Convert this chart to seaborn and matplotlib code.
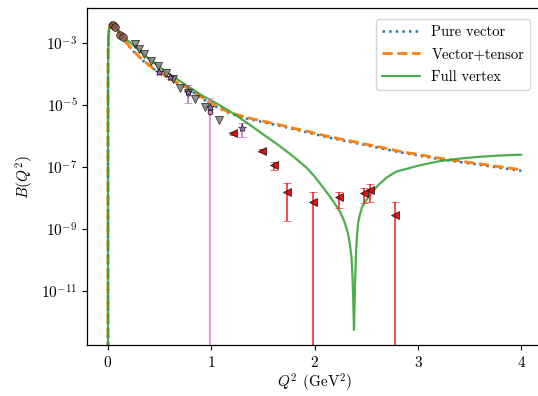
import numpy as np
import pandas as pd
import seaborn as sns
import matplotlib
matplotlib.use('Agg')
import matplotlib.pyplot as plt
from matplotlib.ticker import FixedLocator, NullLocator, LogFormatterSciNotation

# model curves, B(Q^2)
q2_vec = [0.0, 0.0005, 0.002, 0.005, 0.01, 0.02, 0.035, 0.05, 0.09, 0.148, 0.238, 0.335,
          0.432, 0.623, 0.8, 0.991, 1.175, 1.34, 1.66, 2.145, 2.63, 2.823, 3.21, 3.598, 4.0]
b_pure = [1e-16, 1e-4, 6e-4, 1.6e-3, 2.8e-3, 4.0e-3, 4.6e-3, 4.4e-3, 2.7e-3, 1.36e-3, 5.8e-4,
          2.8e-4, 1.55e-4, 6.2e-5, 2.9e-5, 1.1e-5, 5.4e-6, 3.7e-6, 2.15e-6, 8.8e-7, 4.1e-7,
          3.0e-7, 1.78e-7, 1.17e-7, 7.5e-8]
b_tensor = [1e-16, 1e-4, 6e-4, 1.6e-3, 2.8e-3, 4.0e-3, 4.6e-3, 4.4e-3, 2.7e-3, 1.38e-3, 6.0e-4,
            2.9e-4, 1.6e-4, 6.5e-5, 3.1e-5, 1.17e-5, 5.8e-6, 4.0e-6, 2.3e-6, 9.5e-7, 4.4e-7,
            3.2e-7, 1.91e-7, 1.26e-7, 8.1e-8]

q2_full = [0.0, 0.0005, 0.002, 0.005, 0.01, 0.02, 0.035, 0.05, 0.09, 0.148, 0.206, 0.274,
           0.352, 0.429, 0.517, 0.594, 0.672, 0.759, 0.836, 0.914, 0.991, 1.078, 1.204, 1.34,
           1.495, 1.66, 1.805, 1.92, 1.995, 2.076, 2.164, 2.241, 2.285, 2.322, 2.341, 2.355,
           2.365, 2.373, 2.380, 2.387, 2.391, 2.401, 2.409, 2.419, 2.436, 2.459, 2.50, 2.551,
           2.63, 2.706, 2.79, 2.90, 3.0, 3.21, 3.404, 3.598, 3.792, 4.0]
b_full = [1e-16, 1e-4, 6e-4, 1.6e-3, 2.8e-3, 4.0e-3, 4.7e-3, 4.5e-3, 2.9e-3, 1.66e-3, 1.1e-3,
          7.2e-4, 4.2e-4, 2.6e-4, 1.54e-4, 1.02e-4, 6.8e-5, 4.3e-5, 3.0e-5, 2.0e-5, 1.47e-5,
          1.0e-5, 5.6e-6, 2.75e-6, 1.17e-6, 4.8e-7, 2.03e-7, 9.6e-8, 5.1e-8, 2.3e-8, 9.2e-9,
          3.8e-9, 1.8e-9, 7.2e-10, 3.0e-10, 1.26e-10, 3.2e-11, 5.0e-12, 5.4e-13, 5.0e-12,
          2.2e-11, 2.1e-10, 5.5e-10, 1.5e-9, 2.8e-9, 5.1e-9, 8.5e-9, 1.55e-8, 2.9e-8, 4.8e-8,
          7.1e-8, 8.9e-8, 1.1e-7, 1.55e-7, 1.87e-7, 2.14e-7, 2.35e-7, 2.5e-7]

# data points
q2_brown = [0.045, 0.068, 0.116, 0.148]
b_brown = [4.0e-3, 3.3e-3, 1.9e-3, 1.6e-3]

q2_grey = [0.265, 0.303, 0.352, 0.417, 0.481, 0.562, 0.626, 0.700, 0.771, 0.846, 0.934, 1.078]
b_grey = [9.5e-4, 6.4e-4, 4.5e-4, 2.7e-4, 1.85e-4, 1.07e-4, 6.9e-5, 3.5e-5, 2.5e-5, 1.54e-5,
          8.5e-6, 3.2e-6]

q2_star = [0.497, 0.600, 0.771, 0.988, 1.295]
b_star = [1.2e-4, 7.9e-5, 2.7e-5, 8.5e-6, 1.78e-6]
b_star_lo = [1.05e-4, 7.0e-5, 1.15e-5, 7.5e-6, 9.5e-7]
b_star_hi = [1.35e-4, 8.9e-5, 4.5e-5, 9.6e-6, 2.6e-6]

q2_pink = [0.991]
b_pink = [5.9e-6]
b_pink_lo = [0.0]
b_pink_hi = [1.66e-5]

q2_red = [1.207, 1.488, 1.609, 1.734, 1.983, 2.232, 2.477, 2.532, 2.774]
b_red = [1.23e-6, 3.4e-7, 1.13e-7, 1.58e-8, 7.6e-9, 1.05e-8, 1.41e-8, 1.8e-8, 2.8e-9]
b_red_lo = [1.1e-6, 3.1e-7, 7.9e-8, 1.8e-9, 0.0, 4.6e-9, 6.6e-9, 7.6e-9, 0.0]
b_red_hi = [1.4e-6, 3.7e-7, 1.48e-7, 2.93e-8, 1.58e-8, 1.58e-8, 2.1e-8, 2.8e-8, 7.2e-9]


def asym_err(val, lo, hi):
    val = np.array(val)
    return [val - np.array(lo), np.array(hi) - val]


sns.set_style('ticks', {'axes.edgecolor': 'black', 'text.color': 'black',
                        'xtick.color': 'black', 'ytick.color': 'black',
                        'axes.labelcolor': 'black'})
plt.rcParams.update({
    'font.family': 'serif',
    'font.serif': ['cmr10'],
    'mathtext.fontset': 'cm',
    'axes.formatter.use_mathtext': True,
    'font.size': 11,
    'axes.linewidth': 0.9,
})

fig = plt.figure(figsize=(5.38, 3.96), dpi=100)
ax = fig.add_axes([87.3 / 538, (396 - 345.3) / 396, (542.1 - 87.3) / 538, (345.3 - 8) / 396])
ax.set_yscale('log')

sns.lineplot(x=q2_vec, y=b_pure, ax=ax, color='tab:blue', linestyle=':', lw=1.8,
             estimator=None, sort=False, label='Pure vector')
sns.lineplot(x=q2_vec, y=b_tensor, ax=ax, color='tab:orange', linestyle='--', lw=2.0,
             estimator=None, sort=False, label='Vector+tensor')
sns.lineplot(x=q2_full, y=b_full, ax=ax, color='tab:green', lw=1.6, alpha=0.85,
             estimator=None, sort=False, label='Full vertex')

mk = dict(markeredgecolor='k', markeredgewidth=0.5, linestyle='none')
ax.plot(q2_brown, b_brown, marker='o', ms=5.5, color='tab:brown', alpha=0.85, **mk)
ax.plot(q2_grey, b_grey, marker='v', ms=5.5, color='tab:gray', alpha=0.85, **mk)
ax.errorbar(q2_pink, b_pink, yerr=asym_err(b_pink, b_pink_lo, b_pink_hi), fmt='o', ms=3.5,
            color='tab:pink', ecolor='tab:pink', capsize=3, elinewidth=1.1, **mk)
ax.errorbar(q2_star, b_star, yerr=asym_err(b_star, b_star_lo, b_star_hi), fmt='*', ms=6,
            color='tab:purple', ecolor='#a24fae', capsize=3, elinewidth=1.1, alpha=0.85, **mk)
ax.errorbar(q2_red, b_red, yerr=asym_err(b_red, b_red_lo, b_red_hi), fmt='<', ms=5.5,
            color='#d40000', ecolor='#f01818', capsize=3, elinewidth=1.2, alpha=0.9, **mk)

ax.set_xlim(-0.2, 4.2)
ax.set_ylim(10 ** -12.766, 10 ** -1.859)
ax.yaxis.set_major_locator(FixedLocator([1e-3, 1e-5, 1e-7, 1e-9, 1e-11]))
ax.yaxis.set_major_formatter(LogFormatterSciNotation())
ax.yaxis.set_minor_locator(NullLocator())
ax.set_xticks([0, 1, 2, 3, 4])
ax.set_xlabel(r'$Q^2$ (GeV$^2$)', labelpad=1.5)
ax.set_ylabel(r'$B(Q^2)$')

ax.legend(loc='upper right', bbox_to_anchor=(450 / 454.8, 0.988), fontsize=10.5,
          framealpha=0.8, handlelength=2.6, labelspacing=0.6)

fig.savefig('out.png', dpi=100)
